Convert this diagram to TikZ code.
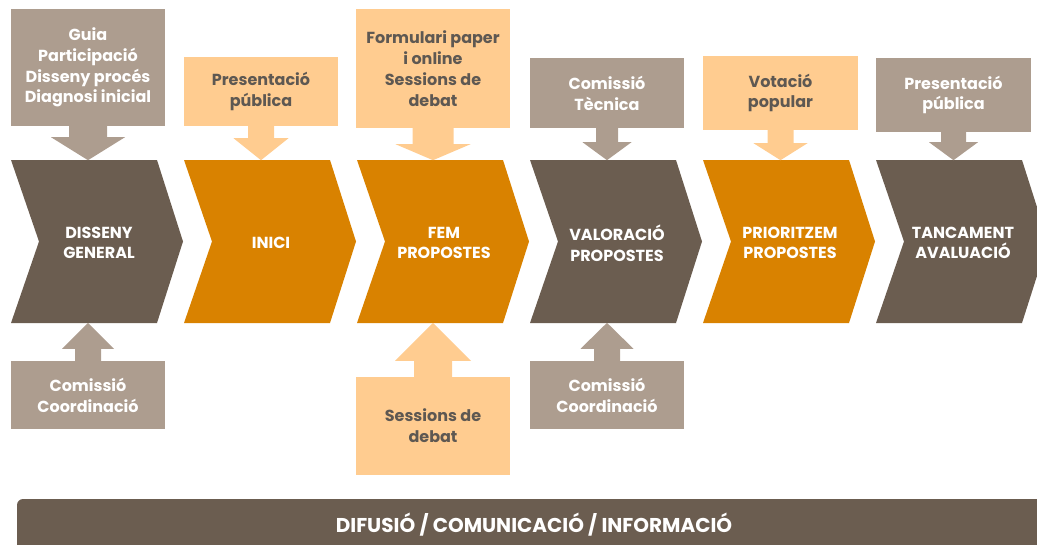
\documentclass[tikz,border=0pt]{standalone}
\usepackage{fontspec}
\setmainfont{Poppins}
\definecolor{cdark}{RGB}{107,93,80}
\definecolor{corange}{RGB}{217,130,0}
\definecolor{cgray}{RGB}{173,157,143}
\definecolor{clight}{RGB}{255,204,144}
\definecolor{ctext}{RGB}{94,88,82}
\newcommand\boxfont{\fontsize{16}{20.8}\selectfont\bfseries}
\newcommand\chevfont{\fontsize{16}{20.5}\selectfont\bfseries}
% #1 colour, #2 node, #3 stem half width, #4 head half width, #5 stem length, #6 head length
\newcommand\arrdown[6]{%
  \fill[#1] ([xshift=-#3 pt]#2.south) -- ++(0,#5) -- ++({#3-#4},0) -- ++(#4,#6) -- ++(#4,-#6) -- ++({#3-#4},0) -- ++(0,-#5) -- cycle;}
\newcommand\arrup[6]{%
  \fill[#1] ([xshift=-#3 pt]#2.north) -- ++(0,-#5) -- ++({#3-#4},0) -- ++(#4,-#6) -- ++(#4,#6) -- ++({#3-#4},0) -- ++(0,#5) -- cycle;}
\newcommand\chevron[2]{%
  \fill[#2] (#1,160) -- ({#1+146},160) -- ({#1+172},241.5) -- ({#1+146},323) -- (#1,323) -- ({#1+28},241.5) -- cycle;}
\tikzset{
  gbox/.style={fill=cgray, text=white, align=center, inner sep=0pt, font=\boxfont, minimum width=154pt},
  obox/.style={fill=clight, text=ctext, align=center, inner sep=0pt, font=\boxfont, minimum width=154pt},
  chevtext/.style={text=white, align=center, inner sep=0pt, font=\chevfont},
  bartext/.style={text=white, align=center, inner sep=0pt, font=\fontsize{20}{22}\selectfont\bfseries}
}
\begin{document}
\begin{tikzpicture}[x=1pt,y=-1pt]
\useasboundingbox (0,0) rectangle (1037,544);
\clip (0,0) rectangle (1037,544);
% chevrons
\chevron{11}{cdark}
\chevron{184}{corange}
\chevron{357}{corange}
\chevron{530}{cdark}
\chevron{703}{corange}
\chevron{876}{cdark}
\node[chevtext] (c1) at (99,243) {DISSENY\\GENERAL};
\node[chevtext] (c2) at (271,243) {INICI};
\node[chevtext] (c3) at (444,243) {FEM\\PROPOSTES};
\node[chevtext] (c4) at (617,243) {VALORACIÓ\\PROPOSTES};
\node[chevtext] (c5) at (790,243) {PRIORITZEM\\PROPOSTES};
\node[chevtext] (c6) at (963,243) {TANCAMENT\\AVALUACIÓ};
% top boxes
\node[gbox, minimum height=117pt] (t1) at (88,67.5) {Guia\\Participació\\Disseny procés\\Diagnosi inicial};
\node[obox, minimum height=69pt] (t2) at (261,91.5) {Presentació\\pública};
\node[obox, minimum height=119pt] (t3) at (433,68.5) {Formulari paper\\i online\\Sessions de\\debat};
\node[gbox, minimum height=70pt] (t4) at (607,93) {Comissió\\Tècnica};
\node[obox, minimum height=74pt, minimum width=155pt] (t5) at (780.5,93) {Votació\\popular};
\node[gbox, minimum height=74pt, minimum width=155pt] (t6) at (953.5,95) {Presentació\\pública};
\arrdown{cgray}{t1}{19}{37}{11}{23}
\arrdown{clight}{t2}{13}{27.5}{12}{22}
\arrdown{clight}{t3}{20.5}{37.5}{16}{16}
\arrdown{cgray}{t4}{11}{24.5}{14}{18}
\arrdown{clight}{t5}{13}{27}{13}{17}
\arrdown{cgray}{t6}{12.5}{24.5}{10}{18}
% bottom boxes
\node[gbox, minimum height=68pt] (b1) at (88,395) {Comissió\\Coordinació};
\node[obox, minimum height=98pt] (b2) at (433,426) {Sessions de\\debat};
\node[gbox, minimum height=68pt] (b3) at (607,395) {Comissió\\Coordinació};
\arrup{cgray}{b1}{13}{26}{12}{26}
\arrup{clight}{b2}{19}{38}{16}{38}
\arrup{cgray}{b3}{13}{26.5}{12}{26}
% bottom bar
\fill[cdark, rounded corners=6pt] (17,499) rectangle (1060,570);
\node[bartext] (bar) at (534,525) {DIFUSIÓ / COMUNICACIÓ / INFORMACIÓ};
\end{tikzpicture}
\end{document}
